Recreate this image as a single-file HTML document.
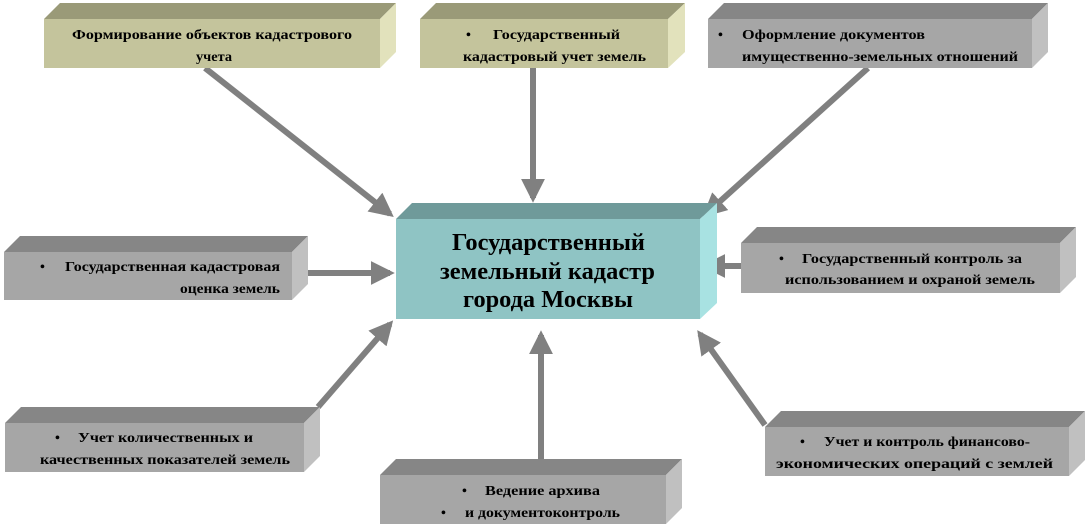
<!DOCTYPE html>
<html><head><meta charset="utf-8"><style>
html,body{margin:0;padding:0;background:#fff;width:1087px;height:528px;overflow:hidden}
text{font-family:"Liberation Serif","DejaVu Serif",serif;font-weight:bold;fill:#000}
</style></head><body>
<svg width="1087" height="528" viewBox="0 0 1087 528" xmlns="http://www.w3.org/2000/svg">
<defs>
<marker id="ah" markerWidth="4" markerHeight="4" refX="3.2" refY="2" orient="auto" markerUnits="strokeWidth">
<path d="M0,0 L4,2 L0,4 z" fill="#808080"/></marker>
</defs>
<g stroke="#808080" stroke-width="6" marker-end="url(#ah)">
<line x1="205" y1="68" x2="390" y2="214"/>
<line x1="533" y1="68" x2="533" y2="198"/>
<line x1="868" y1="68" x2="706" y2="214"/>
<line x1="300" y1="273" x2="390" y2="273"/>
<line x1="742" y1="266" x2="706" y2="266"/>
<line x1="318" y1="407" x2="390" y2="324"/>
<line x1="541" y1="460" x2="541" y2="335"/>
<line x1="765" y1="425" x2="700" y2="334"/>
</g>
<polygon points="44,19 60,3 396,3 380,19" fill="#9a9a78"/>
<polygon points="380,19 396,3 396,52 380,68" fill="#e2e2bc"/>
<rect x="44" y="19" width="336" height="49" fill="#c4c49c"/>
<text x="72" y="39" font-size="14" textLength="280" lengthAdjust="spacingAndGlyphs">Формирование объектов кадастрового</text>
<text x="196" y="61" font-size="14" textLength="36" lengthAdjust="spacingAndGlyphs">учета</text>

<polygon points="420,19 436,3 685,3 668,19" fill="#9a9a78"/>
<polygon points="668,19 685,3 685,52 668,68" fill="#e2e2bc"/>
<rect x="420" y="19" width="248" height="49" fill="#c4c49c"/>
<text x="466" y="39" font-size="14">•</text>
<text x="493" y="39" font-size="14" textLength="127" lengthAdjust="spacingAndGlyphs">Государственный</text>
<text x="463" y="61" font-size="14" textLength="183" lengthAdjust="spacingAndGlyphs">кадастровый учет земель</text>

<polygon points="708,19 724,3 1048,3 1032,19" fill="#868686"/>
<polygon points="1032,19 1048,3 1048,52 1032,68" fill="#c0c0c0"/>
<rect x="708" y="19" width="324" height="49" fill="#a6a6a6"/>
<text x="718" y="39" font-size="14">•</text>
<text x="742" y="39" font-size="14" textLength="183" lengthAdjust="spacingAndGlyphs">Оформление документов</text>
<text x="742" y="61" font-size="14" textLength="276" lengthAdjust="spacingAndGlyphs">имущественно-земельных отношений</text>

<polygon points="396,219 412,203 717,203 700,219" fill="#6f9a9a"/>
<polygon points="700,219 717,203 717,303 700,319" fill="#a8e2e2"/>
<rect x="396" y="219" width="304" height="100" fill="#8fc4c4"/>
<text x="452" y="250" font-size="24" textLength="193" lengthAdjust="spacingAndGlyphs">Государственный</text>
<text x="440" y="279" font-size="24" textLength="215" lengthAdjust="spacingAndGlyphs">земельный кадастр</text>
<text x="463" y="307" font-size="24" textLength="170" lengthAdjust="spacingAndGlyphs">города Москвы</text>

<polygon points="4,252 20,236 308,236 292,252" fill="#868686"/>
<polygon points="292,252 308,236 308,284 292,300" fill="#c0c0c0"/>
<rect x="4" y="252" width="288" height="48" fill="#a6a6a6"/>
<text x="40" y="271" font-size="14">•</text>
<text x="65" y="271" font-size="14" textLength="215" lengthAdjust="spacingAndGlyphs">Государственная кадастровая</text>
<text x="180" y="293" font-size="14" textLength="100" lengthAdjust="spacingAndGlyphs">оценка земель</text>

<polygon points="741,243 757,227 1076,227 1060,243" fill="#868686"/>
<polygon points="1060,243 1076,227 1076,277 1060,293" fill="#c0c0c0"/>
<rect x="741" y="243" width="319" height="50" fill="#a6a6a6"/>
<text x="779" y="263" font-size="14">•</text>
<text x="802" y="263" font-size="14" textLength="220" lengthAdjust="spacingAndGlyphs">Государственный контроль за</text>
<text x="785" y="284" font-size="14" textLength="250" lengthAdjust="spacingAndGlyphs">использованием и охраной земель</text>

<polygon points="5,423 21,407 320,407 304,423" fill="#868686"/>
<polygon points="304,423 320,407 320,456 304,472" fill="#c0c0c0"/>
<rect x="5" y="423" width="299" height="49" fill="#a6a6a6"/>
<text x="55" y="442" font-size="14">•</text>
<text x="78" y="442" font-size="14" textLength="175" lengthAdjust="spacingAndGlyphs">Учет количественных и</text>
<text x="40" y="464" font-size="14" textLength="250" lengthAdjust="spacingAndGlyphs">качественных показателей земель</text>

<polygon points="380,475 396,459 682,459 666,475" fill="#868686"/>
<polygon points="666,475 682,459 682,508 666,524" fill="#c0c0c0"/>
<rect x="380" y="475" width="286" height="49" fill="#a6a6a6"/>
<text x="462" y="495" font-size="14">•</text>
<text x="485" y="495" font-size="14" textLength="115" lengthAdjust="spacingAndGlyphs">Ведение архива</text>
<text x="441" y="517" font-size="14">•</text>
<text x="465" y="517" font-size="14" textLength="155" lengthAdjust="spacingAndGlyphs">и документоконтроль</text>

<polygon points="765,427 781,411 1085,411 1069,427" fill="#868686"/>
<polygon points="1069,427 1085,411 1085,460 1069,476" fill="#c0c0c0"/>
<rect x="765" y="427" width="304" height="49" fill="#a6a6a6"/>
<text x="800" y="446" font-size="14">•</text>
<text x="824" y="446" font-size="14" textLength="206" lengthAdjust="spacingAndGlyphs">Учет и контроль финансово-</text>
<text x="776" y="468" font-size="14" textLength="277" lengthAdjust="spacingAndGlyphs">экономических операций с землей</text>
</svg>
</body></html>
